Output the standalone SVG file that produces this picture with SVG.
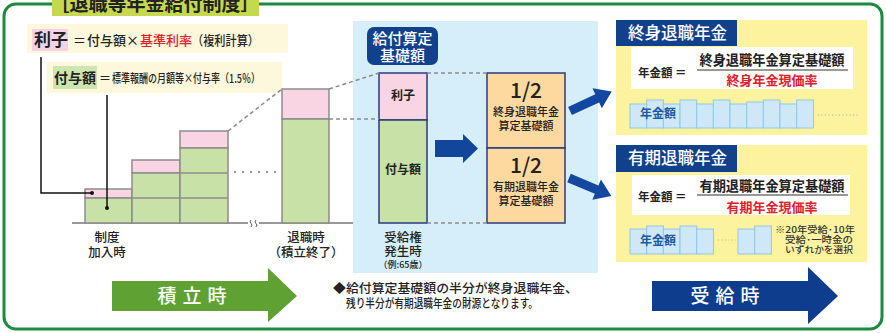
<svg xmlns="http://www.w3.org/2000/svg" width="886" height="333" viewBox="0 0 886 333">
<style>
text{font-family:"Noto Sans CJK JP","Noto Sans",sans-serif;fill:#222;font-weight:500}
text.b{font-weight:bold}
.lbl{font-size:12.5px;text-anchor:middle;fill:#222}
.bar{stroke:#8c8c8c;stroke-width:1.5}
.pk{fill:#f9d5e3}
.gr{fill:#c7e1a6}
.dash{stroke:#8a8a8a;stroke-width:1.5;stroke-dasharray:4 3;fill:none}
.navy{fill:#12418c}
text.wt{fill:#fff}
.yel{fill:#fdf39f}
.pb{fill:#cfe8f7;stroke:#8fc7e8;stroke-width:1}
text.red,tspan.red{fill:#e0202a}
text.blue{fill:#1d5aa3}
text.note{fill:#333}
</style>
<defs>
<path id="sarr" d="M0,-4.5 H30 V-11 L46,0 L30,11 V4.5 H0 Z" fill="#1348a0"/>
</defs>

<g id="frame">
<rect x="4" y="4" width="878" height="325" rx="12" fill="#fff" stroke="#1d8a3f" stroke-width="3"/>
<rect x="52" y="-2" width="207" height="18" fill="#c5d94f"/>
<text x="155" y="11" class="b" font-size="19" text-anchor="middle">［退職等年金給付制度］</text>
</g>

<g id="formula-rishi">
<rect x="27" y="24" width="261" height="29" fill="#fdf8dc"/>
<rect x="32" y="29" width="36" height="22" fill="#f5d3e5"/>
<text x="34" y="46" class="b" font-size="17">利子</text>
<text y="45" font-size="13"><tspan x="73">＝</tspan><tspan x="87">付与額×</tspan><tspan x="140" class="red">基準利率</tspan></text>
<text x="192" y="45" font-size="13" textLength="67" lengthAdjust="spacingAndGlyphs">（複利計算）</text>
</g>

<g id="formula-fuyo">
<rect x="47" y="62" width="235" height="31" fill="#fdf8dc"/>
<rect x="53" y="66" width="44" height="23" fill="#cfe5b0"/>
<text x="54" y="83" class="b" font-size="14">付与額</text>
<text x="99" y="83" font-size="12">＝</text>
<text x="112" y="83" font-size="12" textLength="148" lengthAdjust="spacingAndGlyphs">標準報酬の月額等×付与率（1.5％）</text>
</g>

<g id="bars">
<line x1="72" y1="223" x2="353" y2="223" stroke="#777" stroke-width="1.5"/>
<rect x="85" y="189" width="47" height="9" class="bar pk"/>
<rect x="85" y="198" width="47" height="25" class="bar gr"/>
<rect x="132" y="160" width="48" height="13" class="bar pk"/>
<rect x="132" y="173" width="48" height="50" class="bar gr"/>
<line x1="132" y1="198" x2="180" y2="198" class="bar"/>
<rect x="180" y="131" width="48" height="17" class="bar pk"/>
<rect x="180" y="148" width="48" height="75" class="bar gr"/>
<line x1="180" y1="173" x2="228" y2="173" class="bar"/>
<line x1="180" y1="198" x2="228" y2="198" class="bar"/>
<line x1="235" y1="172" x2="276" y2="172" stroke="#999" stroke-width="2.5" stroke-linecap="round" stroke-dasharray="0 8"/>
<rect x="248" y="220" width="11" height="6" fill="#fff"/>
<path d="M251,220 q-2,2 0,3.5 q2,1.5 0,3.5 M256,220 q-2,2 0,3.5 q2,1.5 0,3.5" stroke="#555" stroke-width="1" fill="none"/>
<rect x="282" y="89" width="47" height="30" class="bar pk"/>
<rect x="282" y="119" width="47" height="104" class="bar gr"/>
<text x="107" y="242" class="lbl">制度</text>
<text x="107" y="257" class="lbl">加入時</text>
<text x="306" y="242" class="lbl">退職時</text>
<text x="306" y="257" class="lbl">（積立終了）</text>
</g>

<g id="kiso-panel">
<rect x="353" y="21" width="245" height="252" fill="#d6eefa"/>
<rect x="367" y="27" width="71" height="38" rx="7" class="navy"/>
<text x="402.5" y="44" font-size="15" text-anchor="middle" class="wt">給付算定</text>
<text x="402.5" y="61" font-size="15" text-anchor="middle" class="wt">基礎額</text>
<rect x="379" y="73" width="48" height="47" fill="#f9d5e3" stroke="#2a3b7e" stroke-width="1.5"/>
<rect x="379" y="120" width="48" height="103" fill="#c7e1a6" stroke="#2a3b7e" stroke-width="1.5"/>
<text x="403" y="100" font-size="12" class="b" text-anchor="middle">利子</text>
<text x="403" y="174" font-size="12" class="b" text-anchor="middle">付与額</text>
<text x="403" y="242" class="lbl">受給権</text>
<text x="403" y="256" class="lbl">発生時</text>
<text x="403" y="268" font-size="9" text-anchor="middle">（例:65歳）</text>
</g>

<g id="half-boxes">
<rect x="487" y="73" width="78" height="75" fill="#fdd9a0" stroke="#2a3b7e" stroke-width="1.5"/>
<rect x="487" y="148" width="78" height="75" fill="#fdd9a0" stroke="#2a3b7e" stroke-width="1.5"/>
<text x="526" y="98" font-family="Liberation Sans,Arial,sans-serif" font-weight="bold" font-size="21" text-anchor="middle">1/2</text>
<text x="526" y="116" font-size="11" text-anchor="middle">終身退職年金</text>
<text x="526" y="130" font-size="11" text-anchor="middle">算定基礎額</text>
<text x="526" y="173" font-family="Liberation Sans,Arial,sans-serif" font-weight="bold" font-size="21" text-anchor="middle">1/2</text>
<text x="526" y="191" font-size="11" text-anchor="middle">有期退職年金</text>
<text x="526" y="205" font-size="11" text-anchor="middle">算定基礎額</text>
</g>

<g id="shushin-panel">
<rect x="616" y="20" width="251" height="115" class="yel"/>
<rect x="616" y="20" width="121" height="26" class="navy"/>
<text x="628" y="39" font-size="16.5" class="wt">終身退職年金</text>
<rect x="631" y="47" width="222" height="42" fill="#fff"/>
<text x="638" y="77" font-size="11.5" class="b">年金額 ＝</text>
<line x1="697" y1="70" x2="848" y2="70" stroke="#333" stroke-width="1"/>
<text x="772" y="65" font-size="14" text-anchor="middle" class="b" textLength="145" lengthAdjust="spacingAndGlyphs">終身退職年金算定基礎額</text>
<text x="772" y="85" font-size="13" text-anchor="middle" class="b red">終身年金現価率</text>
<rect x="630" y="104" width="16.7" height="24" class="pb"/>
<rect x="646.7" y="100" width="16.7" height="28" class="pb"/>
<rect x="663.3" y="104" width="16.7" height="24" class="pb"/>
<rect x="680" y="100" width="16.7" height="28" class="pb"/>
<rect x="696.7" y="104" width="16.7" height="24" class="pb"/>
<rect x="713.3" y="100" width="16.7" height="28" class="pb"/>
<rect x="730" y="104" width="16.7" height="24" class="pb"/>
<rect x="746.7" y="102" width="16.7" height="26" class="pb"/>
<rect x="763.3" y="100" width="16.7" height="28" class="pb"/>
<rect x="780" y="104" width="16.7" height="24" class="pb"/>
<rect x="796.7" y="100" width="16.7" height="28" class="pb"/>
<text x="640" y="118" font-size="12" class="b blue">年金額</text>
<line x1="818" y1="115" x2="858" y2="115" stroke="#aaa" stroke-width="1" stroke-dasharray="1 2.5"/>
</g>

<g id="yuki-panel">
<rect x="616" y="145" width="251" height="117" class="yel"/>
<rect x="616" y="145" width="121" height="27" class="navy"/>
<text x="628" y="164" font-size="16.5" class="wt">有期退職年金</text>
<rect x="632" y="175" width="218" height="40" fill="#fff"/>
<text x="638" y="201" font-size="11.5" class="b">年金額 ＝</text>
<line x1="697" y1="195" x2="848" y2="195" stroke="#333" stroke-width="1"/>
<text x="772" y="191" font-size="14" text-anchor="middle" class="b" textLength="145" lengthAdjust="spacingAndGlyphs">有期退職年金算定基礎額</text>
<text x="772" y="212" font-size="13" text-anchor="middle" class="b red">有期年金現価率</text>
<rect x="630" y="229" width="16.7" height="25" class="pb"/>
<rect x="646.7" y="226" width="16.7" height="28" class="pb"/>
<rect x="663.3" y="229" width="16.7" height="25" class="pb"/>
<rect x="680" y="226" width="16.7" height="28" class="pb"/>
<rect x="696.7" y="229" width="16.7" height="25" class="pb"/>
<line x1="718" y1="240" x2="736" y2="240" stroke="#aaa" stroke-width="1" stroke-dasharray="1 2.5"/>
<rect x="738" y="229" width="16.7" height="25" class="pb"/>
<rect x="754.7" y="226" width="16.7" height="28" class="pb"/>
<text x="640" y="245" font-size="12" class="b blue">年金額</text>
<text x="775" y="233" font-size="9" textLength="80" lengthAdjust="spacingAndGlyphs" class="note">※20年受給･10年</text>
<text x="785" y="243" font-size="9" textLength="68" lengthAdjust="spacingAndGlyphs" class="note">受給･一時金の</text>
<text x="785" y="253" font-size="9" textLength="68" lengthAdjust="spacingAndGlyphs" class="note">いずれかを選択</text>
</g>

<g id="phase-arrows">
<polygon points="112,281 268,281 268,268 297,296 268,322 268,311 112,311" fill="#5fa233"/>
<text x="195" y="303" font-size="19" text-anchor="middle" class="wt" letter-spacing="6">積立時</text>
<polygon points="652,281 808,281 808,267 838,296 808,324 808,311 652,311" fill="#0d3d8c"/>
<text x="728" y="303" font-size="19" text-anchor="middle" class="wt" letter-spacing="6">受給時</text>
</g>

<g id="note">
<text x="333" y="293" font-size="12.5" textLength="245" lengthAdjust="spacingAndGlyphs">◆給付算定基礎額の半分が終身退職年金、</text>
<text x="346" y="308" font-size="12" textLength="192" lengthAdjust="spacingAndGlyphs">残り半分が有期退職年金の財源となります。</text>
</g>

<g id="connectors">
<path d="M41,57 V193 H92" stroke="#111" stroke-width="1.5" fill="none"/>
<circle cx="92" cy="193" r="2" fill="#111"/>
<path d="M107,95 V208" stroke="#111" stroke-width="1.5" fill="none"/>
<circle cx="107" cy="208" r="2" fill="#111"/>
<line x1="228" y1="131" x2="282" y2="89" class="dash"/>
<line x1="329" y1="89" x2="379" y2="73" class="dash"/>
<line x1="329" y1="119" x2="379" y2="119" class="dash"/>
<line x1="427" y1="73" x2="487" y2="73" class="dash"/>
<line x1="427" y1="223" x2="487" y2="223" class="dash"/>
<polygon points="435,140 463,140 463,134 478,148.5 463,163 463,157 435,157" fill="#12469a"/>
<use href="#sarr" transform="translate(570,111) rotate(-25)"/>
<use href="#sarr" transform="translate(569,178) rotate(23)"/>
</g>
</svg>
